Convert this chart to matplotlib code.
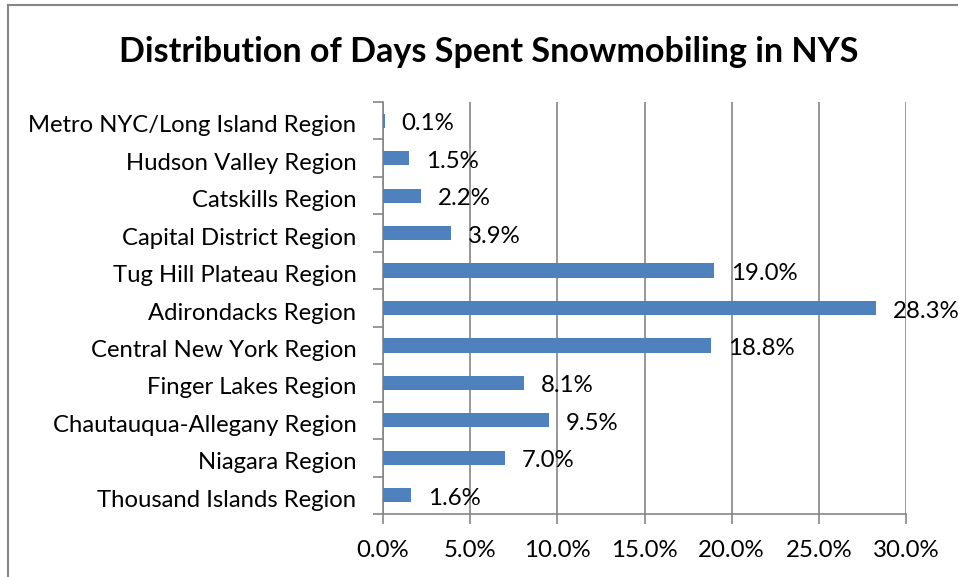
import matplotlib
matplotlib.use("Agg")
import matplotlib.pyplot as plt
from matplotlib.lines import Line2D
from matplotlib.ticker import FixedLocator
from matplotlib.transforms import ScaledTranslation

categories = ["Metro NYC/Long Island Region", "Hudson Valley Region", "Catskills Region",
              "Capital District Region", "Tug Hill Plateau Region", "Adirondacks Region",
              "Central New York Region", "Finger Lakes Region", "Chautauqua-Allegany Region",
              "Niagara Region", "Thousand Islands Region"]
values = [0.1, 1.5, 2.2, 3.9, 19.0, 28.3, 18.8, 8.1, 9.5, 7.0, 1.6]
xticks = [0, 5, 10, 15, 20, 25, 30]
title = "Distribution of Days Spent Snowmobiling in NYS"

plt.rcParams['font.family'] = ['Lato', 'DejaVu Sans']
grey = "#868686"
bar_color = "#4F81BD"

fig = plt.figure(figsize=(9.58, 5.77), dpi=100)
ax = fig.add_axes([383/958, 1-514/577, (906-383)/958, (514-102)/577])

n = len(categories)
ypos = list(range(n))[::-1]
ax.barh(ypos, values, height=0.38, color=bar_color, zorder=3)
ax.set_ylim(-0.5, n-0.5)
ax.set_xlim(0, 30)

for y, v in zip(ypos, values):
    ax.annotate(f"{v:.1f}%", (v, y), xytext=(17, -3), textcoords="offset pixels",
                ha="left", va="center", fontsize=17.3, color="black", zorder=4)

ax.set_yticks(ypos)
ax.set_yticklabels(categories, fontsize=17.2)
ax.tick_params(axis="y", which="major", length=0, pad=19)
ax.yaxis.set_minor_locator(FixedLocator([i - 0.5 for i in range(n + 1)]))
ax.tick_params(axis="y", which="minor", length=7, width=1.2, color=grey, direction="out")
shift = ScaledTranslation(0, -3/100, fig.dpi_scale_trans)
for lbl in ax.get_yticklabels():
    lbl.set_transform(lbl.get_transform() + shift)

ax.xaxis.set_major_locator(FixedLocator(xticks))
ax.set_xticklabels([f"{t:.1f}%" for t in xticks], fontsize=17.3)
ax.tick_params(axis="x", length=7, width=1.2, color=grey, direction="out", pad=12)
ax.grid(axis="x", color=grey, linewidth=1.2, zorder=0)
ax.set_axisbelow(True)

for s in ["top", "right"]:
    ax.spines[s].set_visible(False)
for s in ["left", "bottom"]:
    ax.spines[s].set_color(grey)
    ax.spines[s].set_linewidth(1.2)

fig.text(489/958, 1-52/577, title, ha="center", va="center", fontsize=24.6, fontweight="bold")

fig.add_artist(Line2D([8/958, 8/958], [0, 1-5/577], color=grey, linewidth=1.5, transform=fig.transFigure))
fig.add_artist(Line2D([8/958, 1], [1-5/577, 1-5/577], color=grey, linewidth=1.5, transform=fig.transFigure))

fig.savefig("out.png", dpi=100)
